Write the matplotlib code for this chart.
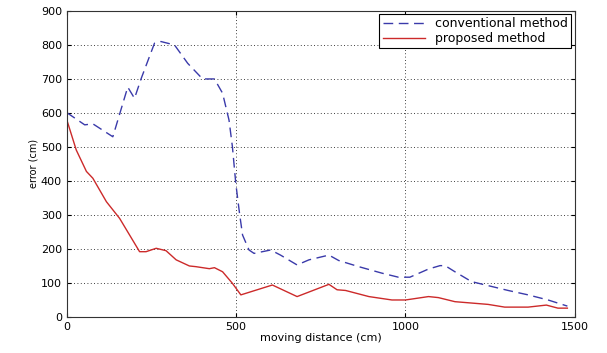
import matplotlib
matplotlib.use('Agg')
import matplotlib.pyplot as plt

# conventional method (blue dashed)
conv_x = [0, 53, 77, 136, 180, 200, 220, 259, 278, 318, 357, 401, 436, 460, 479,
          489, 499, 510, 519, 538, 553, 602, 631, 680, 715, 774, 803, 862, 930,
          979, 1013, 1068, 1102, 1117, 1146, 1195, 1249, 1303, 1362, 1421, 1478]
conv_y = [600, 564, 567, 529, 675, 642, 701, 804, 809, 799, 745, 699, 699, 657, 578,
          500, 392, 304, 240, 196, 186, 196, 181, 152, 167, 181, 165, 147, 128,
          116, 116, 140, 150, 150, 132, 103, 90, 77, 64, 49, 31]

# proposed method (red solid)
prop_x = [0, 28, 58, 77, 117, 156, 215, 234, 264, 293, 323, 362, 381, 421, 436,
          460, 489, 514, 607, 680, 774, 798, 823, 892, 960, 1000, 1068, 1097,
          1146, 1244, 1293, 1362, 1416, 1450, 1478]
prop_y = [579, 490, 427, 407, 338, 289, 191, 191, 201, 194, 167, 149, 147, 141, 144,
          132, 98, 64, 93, 59, 95, 79, 77, 59, 49, 49, 59, 56,
          44, 36, 28, 28, 34, 25, 25]

fig = plt.figure(figsize=(6.07, 3.53), dpi=100)
ax = fig.add_axes([0.110, 0.103, 0.837, 0.867])

ax.plot(conv_x, conv_y, color='#3a3aaa', linestyle=(0, (7, 4)), linewidth=1.0,
        label='conventional method')
ax.plot(prop_x, prop_y, color='#cc2a2a', linewidth=1.0, label='proposed method')

ax.set_xlim(0, 1500)
ax.set_ylim(0, 900)
ax.set_xticks([0, 500, 1000, 1500])
ax.set_yticks(range(0, 901, 100))
ax.grid(True, color='black', linestyle=(0, (1, 3)), linewidth=0.6)
ax.tick_params(direction='in', top=True, right=True, labelsize=8, length=3)
for s in ax.spines.values():
    s.set_color('#333333')

ax.set_xlabel('moving distance (cm)', fontsize=8, labelpad=1)
ax.set_ylabel('error (cm)', fontsize=7, labelpad=2)

leg = ax.legend(loc='upper right', fontsize=9, fancybox=False, framealpha=1,
                edgecolor='black', borderpad=0.25, handlelength=3.4,
                borderaxespad=0.3, labelspacing=0.15)
leg.get_frame().set_linewidth(0.8)

fig.savefig('out.png', dpi=100)
